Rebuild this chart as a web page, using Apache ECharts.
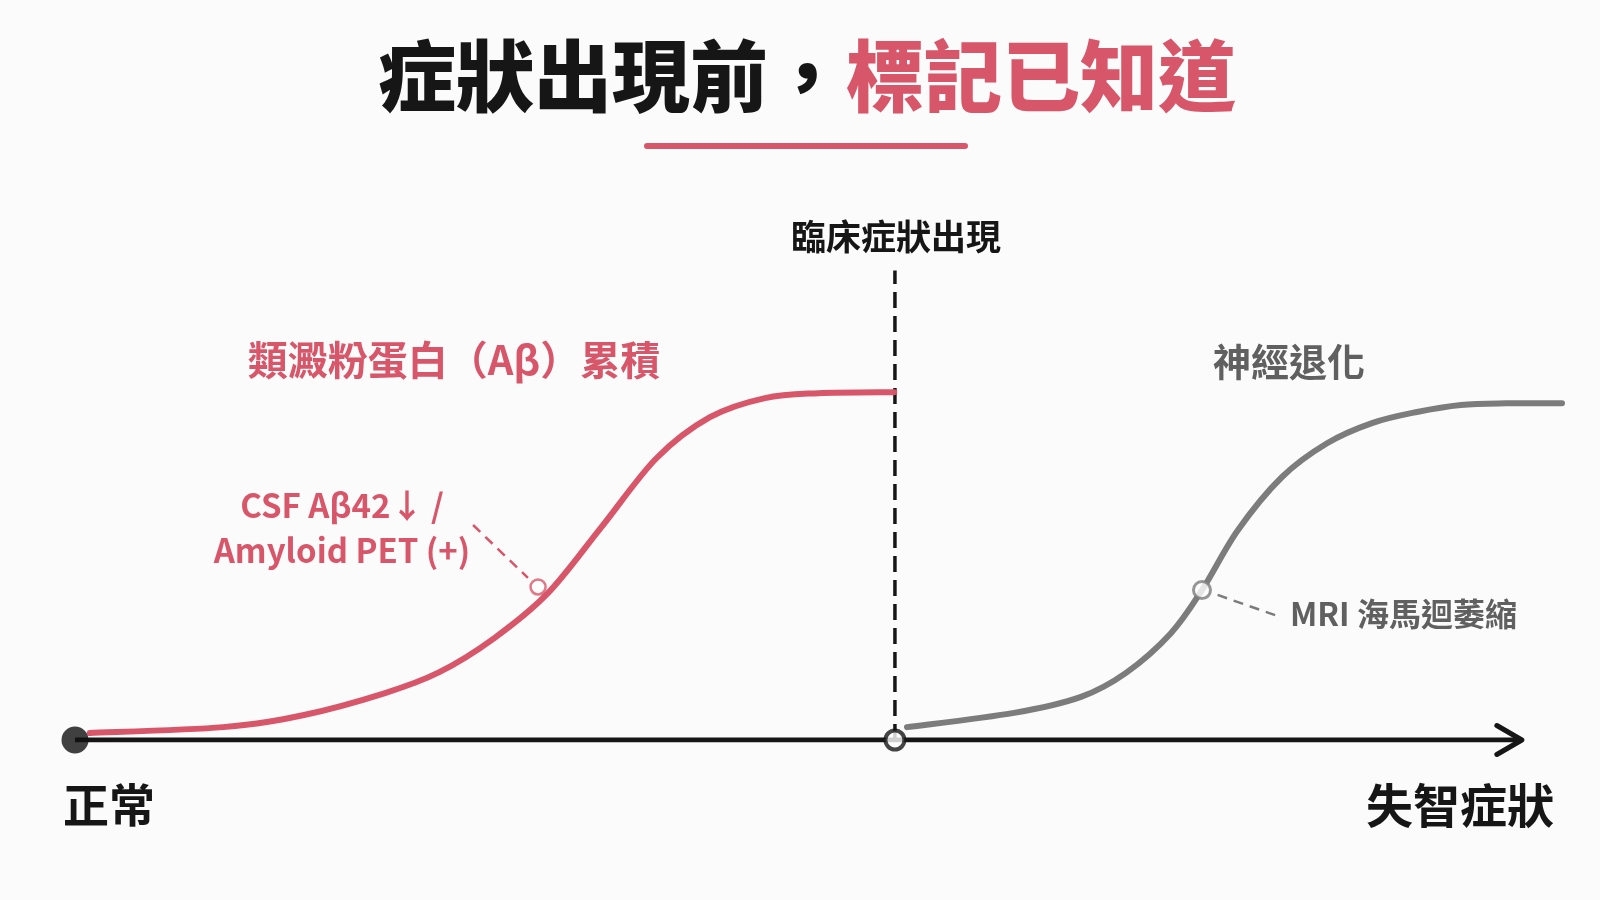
<!DOCTYPE html>
<html><head><meta charset="utf-8">
<script src="https://cdn.jsdelivr.net/npm/echarts@6/dist/echarts.min.js"></script>
<style>html,body{margin:0;padding:0;background:#fbfbfb}#c{width:1600px;height:900px}</style>
</head><body><div id="c"></div>
<script>
// ---- data (arbitrary disease-progression units: x = time, y = biomarker level) ----
const amyloidX = [1.0, 9.95, 15.4, 20.85, 24.5, 28.2, 31.8, 35.4, 39.1, 42.7, 46.4, 50.0, 55.1];
const amyloidY = [2.0, 3.7, 7.2, 13.5, 19.5, 29.3, 42.2, 61.2, 81.0, 92.8, 98.3, 99.7, 100];
const neuroX = [55.95, 63.15, 67.65, 70.68, 73.7, 75.79, 78.2, 81.17, 84.2, 87.22, 90.25, 93.2, 96.23, 100];
const neuroY = [3.7, 7.8, 12.4, 19.3, 30.7, 43.1, 60.3, 75.6, 85.3, 91.1, 94.3, 96.3, 96.8, 96.8];
const startX = 0;
const onsetX = 55.14;
const axisEndX = 97.3;
const onsetLineTop = 135;
const amyloidMarker = [31.14, 44.0];
const neuroMarker = [75.79, 43.1];
const amyloidLeader = [[26.77, 61.8], [30.46, 46.6]];
const neuroLeader = [[76.84, 41.7], [81.03, 35.4]];

// ---- text ----
const titleBlack = '症狀出現前，';
const titleRed = '標記已知道';
const onsetLabel = '臨床症狀出現';
const amyloidLabel = '類澱粉蛋白（Aβ）累積';
const neuroLabel = '神經退化';
const amyloidMarkerLabel = ['CSF Aβ42↓ /', 'Amyloid PET (+)'];
const neuroMarkerLabel = 'MRI 海馬迴萎縮';
const startLabel = '正常';
const endLabel = '失智症狀';

const RED = '#D8566A', GRAY = '#7c7c7c', GRAYTXT = '#606060', BLACK = '#161616';
const FF = '"Noto Sans CJK TC","Noto Sans CJK SC","Noto Sans",sans-serif';

const zip = (xs, ys) => xs.map((x, i) => [x, ys[i]]);

// smooth curve through the scale-mapped points (Catmull-Rom -> cubic Bezier)
function smoothPath(pts) {
  let d = 'M' + pts[0][0] + ',' + pts[0][1];
  for (let i = 0; i < pts.length - 1; i++) {
    const p0 = pts[i - 1] || pts[i], p1 = pts[i], p2 = pts[i + 1], p3 = pts[i + 2] || pts[i + 1];
    const c1 = [p1[0] + (p2[0] - p0[0]) / 6, p1[1] + (p2[1] - p0[1]) / 6];
    const c2 = [p2[0] - (p3[0] - p1[0]) / 6, p2[1] - (p3[1] - p1[1]) / 6];
    d += 'C' + c1.join(',') + ' ' + c2.join(',') + ' ' + p2.join(',');
  }
  return d;
}
function curveSeries(xs, ys, color) {
  return {
    type: 'custom', z: 3, clip: false,
    data: [[xs[0], ys[0]]],
    renderItem: function (params, api) {
      const pts = xs.map((x, i) => api.coord([x, ys[i]]));
      return {type: 'path', shape: {pathData: smoothPath(pts)},
        style: {stroke: color, lineWidth: 6, fill: 'none', lineCap: 'round', lineJoin: 'round'}};
    }
  };
}

const chart = echarts.init(document.getElementById('c'), null, {renderer: 'canvas'});
chart.setOption({
  backgroundColor: '#fbfbfb',
  animation: false,
  grid: {left: 75, right: 38, top: 253, bottom: 160},
  xAxis: {type: 'value', min: 0, max: 100, show: false},
  yAxis: {type: 'value', min: 0, max: 140, show: false},
  series: [
    {type: 'line', z: 1, data: [[startX, 0], [axisEndX, 0]], symbol: 'none',
      lineStyle: {color: BLACK, width: 5}},
    {type: 'line', z: 2, data: [[onsetX, 0], [onsetX, onsetLineTop]], symbol: 'none',
      lineStyle: {color: BLACK, width: 3.5, type: [16, 8]}},
    curveSeries(amyloidX, amyloidY, RED),
    curveSeries(neuroX, neuroY, GRAY),
    {type: 'line', z: 3, data: amyloidLeader, symbol: 'none',
      lineStyle: {color: RED, width: 2.5, type: [10, 7]}},
    {type: 'line', z: 3, data: neuroLeader, symbol: 'none',
      lineStyle: {color: GRAY, width: 2.5, type: [10, 7]}},
    {type: 'scatter', z: 4, data: [amyloidMarker], symbol: 'circle', symbolSize: 15,
      itemStyle: {color: '#ffffff', borderColor: RED, borderWidth: 2.5}},
    {type: 'scatter', z: 4, data: [neuroMarker], symbol: 'circle', symbolSize: 17,
      itemStyle: {color: '#ffffff', borderColor: GRAY, borderWidth: 3}},
    {type: 'scatter', z: 5, data: [[onsetX, 0]], symbol: 'circle', symbolSize: 19,
      itemStyle: {color: '#ffffff', borderColor: BLACK, borderWidth: 4}},
    {type: 'scatter', z: 5, data: [[startX, 0]], symbol: 'circle', symbolSize: 27,
      itemStyle: {color: '#111111'}}
  ]
});

const tip = chart.convertToPixel({gridIndex: 0}, [axisEndX, 0]);
const txt = (text, x, y, size, color, align, weight) => ({
  type: 'text', x: x, y: y, z: 10,
  style: {text: text, fill: color, fontSize: size, fontWeight: weight || 'bold', fontFamily: FF,
    align: align || 'center', verticalAlign: 'middle'}
});
chart.setOption({
  graphic: [
    {type: 'text', x: 807, y: 76, z: 10, style: {
      text: '{a|' + titleBlack + '}{b|' + titleRed + '}', align: 'center', verticalAlign: 'middle',
      rich: {
        a: {fill: BLACK, fontSize: 78, fontWeight: 900, fontFamily: FF},
        b: {fill: RED, fontSize: 78, fontWeight: 900, fontFamily: FF}
      }}},
    {type: 'line', z: 10, shape: {x1: 647, y1: 146, x2: 965, y2: 146},
      style: {stroke: RED, lineWidth: 6, lineCap: 'round'}},
    {type: 'polyline', z: 6, shape: {points: [[tip[0] - 25, tip[1] - 14.5], [tip[0], tip[1]], [tip[0] - 25, tip[1] + 14.5]]},
      style: {stroke: BLACK, lineWidth: 5, fill: null, lineCap: 'round', lineJoin: 'round'}},
    txt(onsetLabel, 896, 237, 35, BLACK),
    txt(amyloidLabel, 454, 360, 40, RED),
    txt(neuroLabel, 1289, 362, 38, GRAYTXT),
    txt(amyloidMarkerLabel[0], 342, 505, 33, RED),
    txt(amyloidMarkerLabel[1], 342, 550, 33, RED),
    txt(neuroMarkerLabel, 1290, 614, 32, GRAYTXT, 'left'),
    txt(startLabel, 63, 805, 46, BLACK, 'left'),
    txt(endLabel, 1554, 805, 47, BLACK, 'right')
  ]
});
</script></body></html>
